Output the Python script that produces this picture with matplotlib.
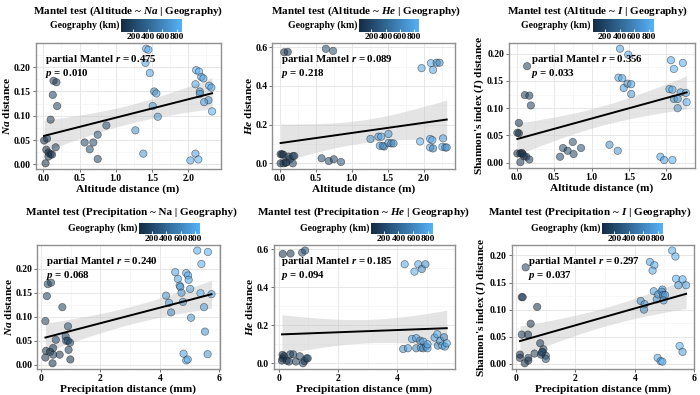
import numpy as np
import matplotlib
matplotlib.use('Agg')
import matplotlib.pyplot as plt
from matplotlib.colors import LinearSegmentedColormap, Normalize
from matplotlib.ticker import FormatStrFormatter, MultipleLocator

plt.rcParams['font.family'] = 'Liberation Serif'
plt.rcParams['font.weight'] = 'bold'
plt.rcParams['axes.labelweight'] = 'bold'
plt.rcParams['mathtext.fontset'] = 'custom'
plt.rcParams['mathtext.rm'] = 'Liberation Serif:bold'
plt.rcParams['mathtext.it'] = 'Liberation Serif:bold:italic'
plt.rcParams['mathtext.bf'] = 'Liberation Serif:bold'

# ---- Altitude ~ Na
alt_na_x = [0.01, 0.04, 0.05, 0.07, 0.03, 0.07, 0.10, 0.12, 0.10, 0.13, 0.14, 0.18, 0.19, 0.17,
            0.57, 0.64, 0.69, 0.75, 0.75, 0.87,
            1.27, 1.38, 1.41, 1.42, 1.45, 1.47, 1.51, 1.53, 1.56, 1.58,
            2.03, 2.10, 2.14, 2.10, 2.11, 2.15, 2.18, 2.21, 2.16, 2.16, 2.29, 2.32, 2.28, 2.22, 2.33]
alt_na_y = [0.049, 0.030, 0.053, 0.024, 0.002, 0.016, 0.021, 0.020, 0.092, 0.143, 0.172, 0.169, 0.120, 0.035,
            0.045, 0.031, 0.045, 0.061, 0.011, 0.080,
            0.070, 0.022, 0.209, 0.238, 0.236, 0.188, 0.120, 0.150, 0.146, 0.098,
            0.008, 0.022, 0.010, 0.165, 0.194, 0.191, 0.180, 0.177, 0.150, 0.145, 0.162, 0.158, 0.132, 0.128, 0.109]
alt_na_geo = [60, 40, 90, 30, 50, 70, 110, 80, 130, 150, 160, 140, 170, 120,
              200, 230, 210, 250, 190, 260,
              650, 700, 780, 820, 840, 760, 720, 600, 740, 680,
              800, 760, 850, 790, 830, 870, 810, 750, 620, 700, 840, 770, 690, 730, 860]

# ---- Altitude ~ He
alt_he_x = [0.06, 0.11, 0.01, 0.03, 0.05, 0.01, 0.05, 0.08, 0.12, 0.14, 0.18, 0.18, 0.20, 0.09,
            0.64, 0.74, 0.58, 0.68, 0.75, 0.85,
            1.97, 2.10, 2.18, 2.22, 2.13,
            1.26, 1.37, 1.41, 1.39, 1.45, 1.43, 1.51, 1.51, 1.55, 1.58,
            1.95, 2.09, 2.12, 2.09, 2.13, 2.27, 2.26, 2.30, 2.32]
alt_he_y = [0.574, 0.576, 0.047, 0.047, 0.044, 0.000, 0.000, 0.003, 0.035, 0.021, 0.000, 0.037, 0.038, 0.005,
            0.592, 0.581, 0.026, 0.012, 0.021, 0.007,
            0.492, 0.518, 0.520, 0.520, 0.483,
            0.126, 0.138, 0.138, 0.091, 0.087, 0.090, 0.152, 0.105, 0.103, 0.103,
            0.113, 0.126, 0.120, 0.082, 0.077, 0.129, 0.085, 0.082, 0.082]
alt_he_geo = [60, 90, 40, 70, 50, 30, 110, 80, 130, 150, 120, 160, 170, 100,
              230, 250, 200, 210, 190, 260,
              800, 830, 600, 620, 790,
              650, 700, 780, 760, 560, 600, 720, 740, 580, 620,
              840, 860, 770, 810, 550, 750, 870, 590, 690]

# ---- Altitude ~ I
alt_i_x = [0.14, 0.11, 0.17, 0.19, 0.03, 0.01, 0.03, 0.01, 0.05, 0.07, 0.05, 0.10, 0.13, 0.17, 0.08,
           0.58, 0.62, 0.68, 0.75, 0.76, 0.86,
           1.38, 1.49, 1.36, 1.41, 1.43, 1.48, 1.53, 1.53, 1.24, 1.35,
           2.06, 2.22, 2.10, 2.04, 2.08, 2.19, 2.26, 2.10, 2.15, 2.15, 2.27, 1.92, 1.97, 2.08]
alt_i_y = [0.177, 0.124, 0.123, 0.105, 0.073, 0.055, 0.054, 0.017, 0.017, 0.018, 0.001, 0.012, 0.011, 0.006, 0.016,
           0.011, 0.027, 0.022, 0.038, 0.016, 0.027,
           0.209, 0.198, 0.156, 0.155, 0.137, 0.145, 0.144, 0.126, 0.033, 0.022,
           0.188, 0.183, 0.172, 0.135, 0.134, 0.129, 0.128, 0.117, 0.117, 0.100, 0.111, 0.011, 0.005, 0.005]
alt_i_geo = [160, 140, 150, 170, 90, 60, 40, 30, 70, 50, 110, 80, 130, 120, 100,
             200, 230, 210, 250, 190, 260,
             780, 840, 820, 760, 720, 600, 740, 680, 650, 700,
             830, 840, 870, 790, 810, 750, 770, 620, 700, 690, 860, 800, 760, 850]

# ---- Precipitation ~ Na
pre_na_x = [0.15, 0.20, 0.23, 0.34, 0.17, 0.15, 0.31, 0.41, 0.41, 0.39, 0.50, 0.63, 0.72, 0.83, 0.85, 0.91, 0.91, 0.98, 0.93, 0.99,
            4.21, 4.31, 4.38, 4.52, 4.61, 4.67, 4.69, 4.73, 4.78, 4.89, 4.95, 4.97, 5.02, 5.05, 4.80, 4.89, 4.94,
            5.26, 5.40, 5.37, 5.49, 5.52, 5.62, 5.74, 5.61]
pre_na_y = [0.091, 0.143, 0.168, 0.171, 0.029, 0.015, 0.027, 0.035, 0.021, 0.003, 0.052, 0.021, 0.120, 0.059, 0.050, 0.080, 0.050, 0.046, 0.031, 0.011,
            0.144, 0.129, 0.109, 0.193, 0.179, 0.165, 0.162, 0.150, 0.131, 0.191, 0.186, 0.177, 0.158, 0.098, 0.023, 0.009, 0.011,
            0.238, 0.210, 0.149, 0.120, 0.069, 0.235, 0.147, 0.022]
pre_na_geo = [130, 150, 160, 140, 60, 40, 90, 70, 110, 50, 200, 80, 170, 230, 210, 260, 250, 190, 120, 30,
              650, 720, 600, 760, 780, 740, 700, 680, 620, 800, 830, 790, 750, 690, 760, 850, 810,
              820, 840, 870, 730, 660, 860, 770, 700]

# ---- Precipitation ~ He
pre_he_x = [0.14, 0.40, 0.79, 0.89,
            4.25, 4.58, 4.71, 4.83, 4.95,
            0.13, 0.14, 0.18, 0.11, 0.27, 0.35, 0.39, 0.49, 0.58, 0.71, 0.82, 0.87, 0.94, 0.98,
            4.20, 4.36, 4.50, 4.64, 4.64, 4.77, 4.80, 4.88, 4.88, 4.97, 5.02, 5.02, 5.26, 5.35, 5.37, 5.45, 5.52, 5.58, 5.61, 5.67]
pre_he_y = [0.575, 0.577, 0.582, 0.593,
            0.521, 0.482, 0.521, 0.496, 0.521,
            0.044, 0.026, 0.037, 0.014, 0.014, 0.009, 0.047, 0.047, 0.009, 0.037, 0.000, 0.012, 0.026, 0.026,
            0.075, 0.079, 0.128, 0.132, 0.079, 0.119, 0.082, 0.114, 0.079, 0.088, 0.079, 0.100, 0.135, 0.153, 0.093, 0.118, 0.093, 0.137, 0.088, 0.105]
pre_he_geo = [60, 90, 230, 250,
              800, 830, 790, 600, 620,
              40, 30, 70, 50, 110, 80, 130, 150, 120, 160, 170, 100, 200, 190,
              650, 700, 780, 760, 560, 600, 720, 740, 580, 620, 840, 860, 770, 810, 550, 750, 870, 590, 690, 820]

# ---- Precipitation ~ I
pre_i_x = [0.32, 0.19, 0.22, 0.19, 0.40, 0.49, 0.71, 0.13, 0.13, 0.29, 0.41, 0.41, 0.62, 0.81, 0.84, 0.92, 0.89, 1.00, 1.00, 0.87,
           4.20, 4.33, 4.31, 4.51, 4.66, 4.60, 4.64, 4.74, 4.79, 4.93, 4.91, 4.95, 5.02, 4.97, 4.77, 4.87, 4.93,
           5.26, 5.37, 5.39, 5.47, 5.61, 5.73, 5.51, 5.61]
pre_i_y = [0.178, 0.123, 0.123, 0.054, 0.054, 0.074, 0.105, 0.017, 0.011, 0.001, 0.011, 0.006, 0.019, 0.038, 0.017, 0.027, 0.022, 0.015, 0.009, 0.021,
           0.116, 0.110, 0.100, 0.188, 0.182, 0.172, 0.134, 0.119, 0.128, 0.137, 0.133, 0.127, 0.127, 0.117, 0.011, 0.005, 0.004,
           0.209, 0.198, 0.157, 0.145, 0.156, 0.145, 0.033, 0.022]
pre_i_geo = [160, 140, 150, 170, 90, 60, 40, 30, 70, 50, 110, 80, 130, 120, 100, 200, 230, 210, 250, 190,
             650, 700, 600, 780, 840, 820, 760, 720, 740, 680, 690, 620, 700, 750, 800, 760, 850,
             830, 840, 870, 790, 810, 770, 860, 730]

cmap = LinearSegmentedColormap.from_list('gg', ['#132B43', '#56B1F7'])

fig = plt.figure(figsize=(7, 3.95), dpi=100)


def panel(pos, cpos, tx_title, ty, x, y, g, title, ylabel, xlabel, xstep, ystep, yfmt, xfmt, stat, tx):
    ax = fig.add_axes(pos)
    x = np.array(x)
    y = np.array(y)
    g = np.array(g)
    norm = Normalize(g.min(), g.max())

    # linear fit + 95% band
    b, a = np.polyfit(x, y, 1)
    xs = np.linspace(x.min(), x.max(), 80)
    ys = a + b * xs
    n = len(x)
    s = np.sqrt(np.sum((y - (a + b * x)) ** 2) / (n - 2))
    se = s * np.sqrt(1 / n + (xs - x.mean()) ** 2 / np.sum((x - x.mean()) ** 2))
    ax.fill_between(xs, ys - 2.02 * se, ys + 2.02 * se, color='#c4c4c4', alpha=0.45, lw=0, zorder=2)
    sc = ax.scatter(x, y, c=g, cmap=cmap, norm=norm, s=28, alpha=0.55,
                    edgecolors='#1a1a1a', linewidths=0.5, zorder=3)
    ax.plot(xs, ys, color='black', lw=1.4, zorder=4)

    ax.margins(x=0.05, y=0.05)
    ax.xaxis.set_major_locator(MultipleLocator(xstep))
    ax.xaxis.set_minor_locator(MultipleLocator(xstep / 2))
    ax.yaxis.set_major_locator(MultipleLocator(ystep))
    ax.yaxis.set_minor_locator(MultipleLocator(ystep / 2))
    ax.xaxis.set_major_formatter(FormatStrFormatter(xfmt))
    ax.yaxis.set_major_formatter(FormatStrFormatter(yfmt))
    ax.set_axisbelow(True)
    ax.grid(which='major', color='#e3e3e3', lw=0.6)
    ax.grid(which='minor', color='#f1f1f1', lw=0.4)
    ax.tick_params(which='major', length=2.5, width=0.6, color='#555555', labelsize=7, pad=1)
    ax.tick_params(which='minor', length=0)
    for lab in ax.get_xticklabels() + ax.get_yticklabels():
        lab.set_fontweight('bold')
    for sp in ax.spines.values():
        sp.set_color('#8f8f8f')
        sp.set_linewidth(1.0)
    ax.set_xlabel(xlabel, fontsize=8.2, labelpad=1)
    ax.set_ylabel(ylabel, fontsize=8.2, labelpad=1)
    ax.text(tx, 0.92, stat, transform=ax.transAxes, fontsize=7.8, va='top', ha='left',
            linespacing=1.15, zorder=5)

    fig.text(tx_title, ty, title, fontsize=8, ha='center', va='center')

    cax = fig.add_axes(cpos)
    cb = fig.colorbar(sc, cax=cax, orientation='horizontal')
    cb.solids.set_alpha(1)
    cb.outline.set_visible(False)
    cb.set_ticks([200, 400, 600, 800])
    cax.tick_params(labelsize=6.8, length=2, width=0.6, color='white', direction='in', pad=1)
    for lab in cax.get_xticklabels():
        lab.set_fontweight('bold')
    fig.text(cpos[0] - 0.003, cpos[1] + cpos[3] / 2, 'Geography (km)', fontsize=7,
             ha='right', va='center')
    return ax


panel([0.051, 0.572, 0.264, 0.319], [0.173, 0.919, 0.087, 0.033], 128 / 700, 0.972,
      alt_na_x, alt_na_y, alt_na_geo,
      r'Mantel test (Altitude ~ $\mathit{Na}$ | Geography)', r'$\mathit{Na}$ distance',
      'Altitude distance (m)', 0.5, 0.05, '%.2f', '%.1f',
      'partial Mantel $\\mathit{r}$ = 0.475\n$\\mathit{p}$ = 0.010', 0.05)

panel([0.389, 0.572, 0.261, 0.319], [0.513, 0.919, 0.086, 0.033], 366 / 700, 0.972,
      alt_he_x, alt_he_y, alt_he_geo,
      r'Mantel test (Altitude ~ $\mathit{He}$ | Geography)', r'$\mathit{He}$ distance',
      'Altitude distance (m)', 0.5, 0.2, '%.1f', '%.1f',
      'partial Mantel $\\mathit{r}$ = 0.089\n$\\mathit{p}$ = 0.218', 0.05)

panel([0.727, 0.575, 0.266, 0.316], [0.847, 0.919, 0.087, 0.033], 597 / 700, 0.972,
      alt_i_x, alt_i_y, alt_i_geo,
      r'Mantel test (Altitude ~ $\mathit{I}$ | Geography)', r"Shannon's index ($\mathit{I}$) distance",
      'Altitude distance (m)', 0.5, 0.05, '%.2f', '%.1f',
      'partial Mantel $\\mathit{r}$ = 0.356\n$\\mathit{p}$ = 0.033', 0.12)

panel([0.053, 0.066, 0.261, 0.314], [0.199, 0.408, 0.087, 0.028], 131 / 700, 0.463,
      pre_na_x, pre_na_y, pre_na_geo,
      'Mantel test (Precipitation ~ Na | Geography)', r'$\mathit{Na}$ distance',
      'Precipitation distance (mm)', 2, 0.05, '%.2f', '%d',
      'partial Mantel $\\mathit{r}$ = 0.240\n$\\mathit{p}$ = 0.068', 0.05)

panel([0.391, 0.066, 0.259, 0.314], [0.530, 0.408, 0.089, 0.028], 364 / 700, 0.463,
      pre_he_x, pre_he_y, pre_he_geo,
      r'Mantel test (Precipitation ~ $\mathit{He}$ | Geography)', r'$\mathit{He}$ distance',
      'Precipitation distance (mm)', 2, 0.2, '%.1f', '%d',
      'partial Mantel $\\mathit{r}$ = 0.185\n$\\mathit{p}$ = 0.094', 0.04)

panel([0.731, 0.066, 0.261, 0.314], [0.860, 0.408, 0.087, 0.028], 590 / 700, 0.463,
      pre_i_x, pre_i_y, pre_i_geo,
      r'Mantel test (Precipitation ~ $\mathit{I}$ | Geography)', r"Shannon's index ($\mathit{I}$) distance",
      'Precipitation distance (mm)', 2, 0.05, '%.2f', '%d',
      'partial Mantel $\\mathit{r}$ = 0.297\n$\\mathit{p}$ = 0.037', 0.087)

fig.savefig('out.png', dpi=100)
